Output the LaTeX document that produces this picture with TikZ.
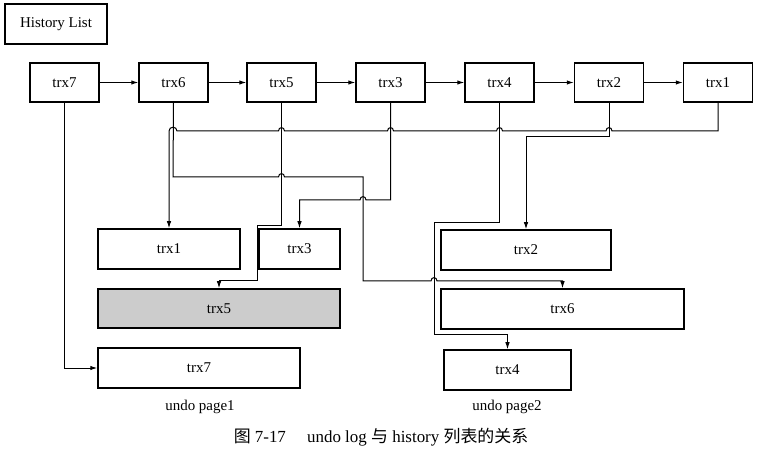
\documentclass[tikz,border=0pt]{standalone}
\usepackage{fontspec}
\setmainfont{Liberation Serif}
\newfontfamily\cjk{Noto Sans CJK SC}
\usetikzlibrary{arrows.meta}
\begin{document}
\begin{tikzpicture}[x=1bp,y=-1bp,
  box/.style={draw, line width=1.5bp, minimum width=69bp, minimum height=39bp, inner sep=0pt, font=\fontsize{15}{17}\selectfont},
  ubox/.style={draw, line width=1.5bp, minimum height=40bp, inner sep=0pt, font=\fontsize{15}{17}\selectfont},
  conn/.style={line width=1bp, -{Latex[length=7bp,width=4.5bp]}},
  lbl/.style={font=\fontsize{15}{17}\selectfont}
]
\useasboundingbox (0,0) rectangle (765,451);
\node[box, minimum width=102bp, minimum height=40bp] (hl) at (56,24) {History List};
\node[box] (t7) at (64.5,82.5) {trx7};
\node[box] (t6) at (173.5,82.5) {trx6};
\node[box] (t5) at (281.5,82.5) {trx5};
\node[box] (t3) at (390.5,82.5) {trx3};
\node[box] (t4) at (499.5,82.5) {trx4};
\node[box] (t2) at (609,82.5) {trx2};
\node[box] (t1) at (718,82.5) {trx1};
\node[ubox, minimum width=142bp] (u1) at (169,249) {trx1};
\node[ubox, minimum width=81bp] (u3) at (299.5,249) {trx3};
\node[ubox, minimum width=242bp, minimum height=39bp, fill=black!20] (u5) at (219,308.5) {trx5};
\node[ubox, minimum width=202bp] (u7) at (199,368) {trx7};
\node[ubox, minimum width=170bp] (u2) at (526,250) {trx2};
\node[ubox, minimum width=243bp] (u6) at (562.5,309) {trx6};
\node[ubox, minimum width=127bp] (u4) at (507.5,370) {trx4};
\node[lbl] (p1) at (200,407) {undo page1};
\node[lbl] (p2) at (507,407) {undo page2};
\node[font=\fontsize{17}{20}\selectfont] (cap) at (381,437) {{\cjk 图}\ 7-17\quad\ undo log {\cjk 与} history {\cjk 列表的关系}};
\draw[conn] (t7.east) -- (t6.west);
\draw[conn] (t6.east) -- (t5.west);
\draw[conn] (t5.east) -- (t3.west);
\draw[conn] (t3.east) -- (t4.west);
\draw[conn] (t4.east) -- (t2.west);
\draw[conn] (t2.east) -- (t1.west);
\draw[conn] (t7.south) |- (u7.west);
\draw[conn] (t1.south) -- (718,131) -- (612,131) .. controls (612,126.5) and (606,126.5) .. (606,131)
  -- (502.5,131) .. controls (502.5,126.5) and (496.5,126.5) .. (496.5,131)
  -- (393.5,131) .. controls (393.5,126.5) and (387.5,126.5) .. (387.5,131)
  -- (284.5,131) .. controls (284.5,126.5) and (278.5,126.5) .. (278.5,131)
  -- (177,131) .. controls (177,126) and (169,126) .. (169,131) -- (u1.north);
\draw[conn] (t2.south) -- (609,137) -- (526,137) -- (u2.north);
\draw[conn] (t6.south) -- (173,177) -- (278.5,177) .. controls (278.5,172.5) and (284.5,172.5) .. (284.5,177)
  -- (363,177) -- (363,281) -- (431,281) .. controls (431,276.5) and (437,276.5) .. (437,281)
  -- (562.5,281) -- (u6.north);
\draw[conn] (t3.south) -- (390.5,200) -- (366,200) .. controls (366,195.5) and (360,195.5) .. (360,200)
  -- (299.5,200) -- (u3.north);
\draw[conn] (t5.south) -- (281.5,226) -- (257,226) -- (257,281) -- (219,281) -- (u5.north);
\draw[conn] (t4.south) -- (499.5,223) -- (434,223) -- (434,335) -- (507.5,335) -- (u4.north);
\end{tikzpicture}
\end{document}
